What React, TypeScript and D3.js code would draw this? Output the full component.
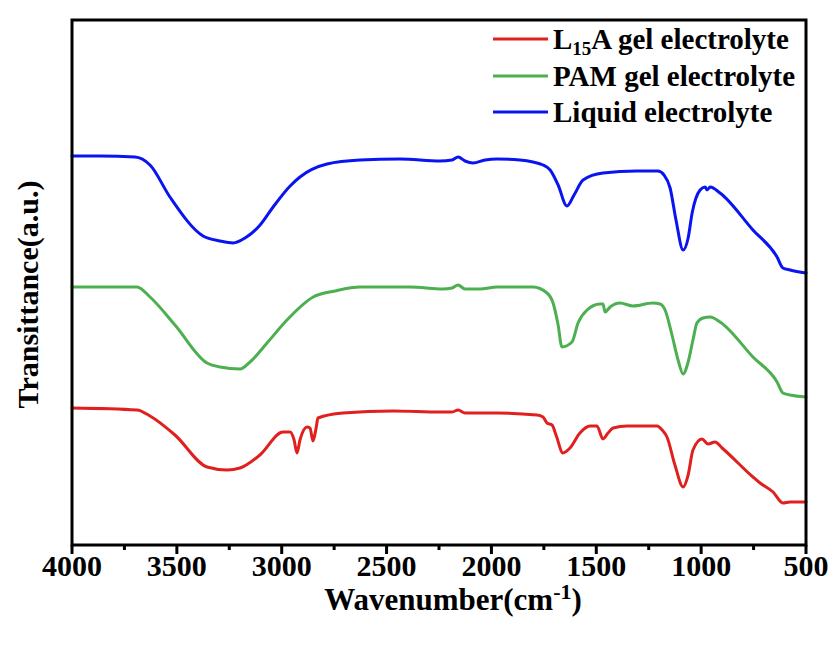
import React from "react";
import * as d3 from "d3";

type Pt = [number, number];

// wavenumber (cm^-1), transmittance (a.u., offset stacked)
const liquid: Pt[] = [
  [4000, 389], [3866, 389], [3700, 388], [3628, 380], [3533, 348], [3375, 309],
  [3294, 304], [3232, 302], [3175, 307], [3103, 320], [3041, 338], [2960, 359],
  [2913, 368], [2784, 381], [2627, 385], [2436, 386], [2245, 384], [2188, 385],
  [2159, 388], [2126, 384], [2088, 382], [2030, 385], [1973, 386], [1864, 385],
  [1802, 383], [1754, 380], [1720, 375], [1682, 360], [1640, 339], [1606, 350],
  [1563, 365], [1468, 372], [1306, 374], [1206, 374], [1177, 370], [1148, 357],
  [1120, 325], [1086, 295], [1062, 307], [1043, 332], [1005, 355], [981, 358],
  [972, 355], [957, 358], [910, 352], [753, 315], [638, 288], [610, 277],
  [576, 275], [500, 272],
];

const pam: Pt[] = [
  [4000, 258], [3690, 258], [3628, 248], [3509, 220], [3356, 182], [3294, 178],
  [3199, 176], [3151, 183], [3070, 202], [2975, 225], [2850, 248], [2746, 254],
  [2627, 258], [2388, 258], [2231, 256], [2188, 257], [2159, 260], [2126, 256],
  [2054, 256], [1973, 258], [1802, 258], [1735, 252], [1706, 242], [1682, 220],
  [1664, 198], [1616, 203], [1587, 222], [1544, 235], [1482, 241], [1468, 241],
  [1458, 233], [1434, 238], [1387, 242], [1325, 239], [1230, 242], [1196, 241],
  [1172, 235], [1139, 210], [1110, 185], [1086, 171], [1062, 183], [1039, 205],
  [1020, 222], [991, 227], [957, 228], [910, 223], [753, 188], [638, 163],
  [610, 152], [576, 150], [500, 148],
];

const l15a: Pt[] = [
  [4000, 137], [3690, 135], [3628, 129], [3509, 110], [3356, 78], [3261, 75],
  [3199, 77], [3104, 90], [2994, 113], [2960, 113], [2941, 105], [2927, 92],
  [2913, 105], [2879, 118], [2865, 117], [2851, 104], [2836, 117], [2827, 127],
  [2708, 132], [2469, 134], [2245, 133], [2188, 133], [2159, 135], [2126, 132],
  [1973, 132], [1783, 130], [1754, 128], [1735, 122], [1711, 120], [1692, 110],
  [1659, 92], [1625, 97], [1578, 112], [1530, 119], [1497, 119], [1468, 106],
  [1444, 112], [1420, 117], [1353, 119], [1210, 119], [1186, 115], [1163, 108],
  [1125, 80], [1086, 58], [1062, 70], [1039, 95], [996, 106], [967, 101],
  [934, 103], [900, 97], [753, 68], [719, 62], [657, 53], [610, 42],
  [576, 43], [500, 43],
];

const seriesNames = ["L15A gel electrolyte", "PAM gel electrolyte", "Liquid electrolyte"];
const seriesColors = ["#e0201e", "#4caf50", "#0a14f0"];
const seriesData = [l15a, pam, liquid];

const xTicks = [4000, 3500, 3000, 2500, 2000, 1500, 1000, 500];
const xMinorTicks = [3750, 3250, 2750, 2250, 1750, 1250, 750];

const W = 832;
const Hh = 646;
const left = 72;
const right = 806;
const top = 20;
const bottom = 545;

export default function App() {
  const x = d3.scaleLinear().domain([4000, 500]).range([left, right]);
  const H = bottom - top;
  const y = d3.scaleLinear().domain([0, H]).range([bottom, top]);
  const line = d3
    .line<Pt>()
    .x((d) => x(d[0]))
    .y((d) => y(d[1]))
    .curve(d3.curveMonotoneX);

  const font = "'Liberation Serif', 'Times New Roman', serif";
  const legendY = [39, 76, 112];

  return (
    <svg
      width={W}
      height={Hh}
      style={{ position: "absolute", left: 0, top: 0, background: "#fff" }}
      fontFamily={font}
      fontWeight="bold"
    >
      <rect x={0} y={0} width={W} height={Hh} fill="#fff" />
      {seriesData.map((d, i) => (
        <path
          key={i}
          d={line(d) || ""}
          fill="none"
          stroke={seriesColors[i]}
          strokeWidth={3}
          strokeLinejoin="round"
          strokeLinecap="round"
        />
      ))}
      <rect
        x={left}
        y={top}
        width={right - left}
        height={bottom - top}
        fill="none"
        stroke="#000"
        strokeWidth={3}
      />
      {xTicks.map((t) => (
        <g key={t}>
          <line x1={x(t)} x2={x(t)} y1={bottom} y2={bottom + 9} stroke="#000" strokeWidth={3} />
          <text x={x(t)} y={bottom + 31} textAnchor="middle" fontSize={30}>
            {t}
          </text>
        </g>
      ))}
      {xMinorTicks.map((t) => (
        <line key={t} x1={x(t)} x2={x(t)} y1={bottom} y2={bottom + 5} stroke="#000" strokeWidth={3} />
      ))}
      <text x={(left + right) / 2 + 14} y={610} textAnchor="middle" fontSize={31}>
        Wavenumber(cm
        <tspan dy={-11} fontSize={22}>-1</tspan>
        <tspan dy={11}>)</tspan>
      </text>
      <text
        transform={`translate(38, ${(top + bottom) / 2 + 12}) rotate(-90)`}
        textAnchor="middle"
        fontSize={30}
      >
        Transittance(a.u.)
      </text>
      {seriesNames.map((n, i) => (
        <g key={n}>
          <line
            x1={493}
            x2={548}
            y1={legendY[i]}
            y2={legendY[i]}
            stroke={seriesColors[i]}
            strokeWidth={3}
          />
          <text x={553} y={legendY[i] + 10} fontSize={29}>
            {i === 0 ? (
              <>
                L<tspan dy={6} fontSize={19}>15</tspan>
                <tspan dy={-6}>A gel electrolyte</tspan>
              </>
            ) : (
              n
            )}
          </text>
        </g>
      ))}
    </svg>
  );
}
